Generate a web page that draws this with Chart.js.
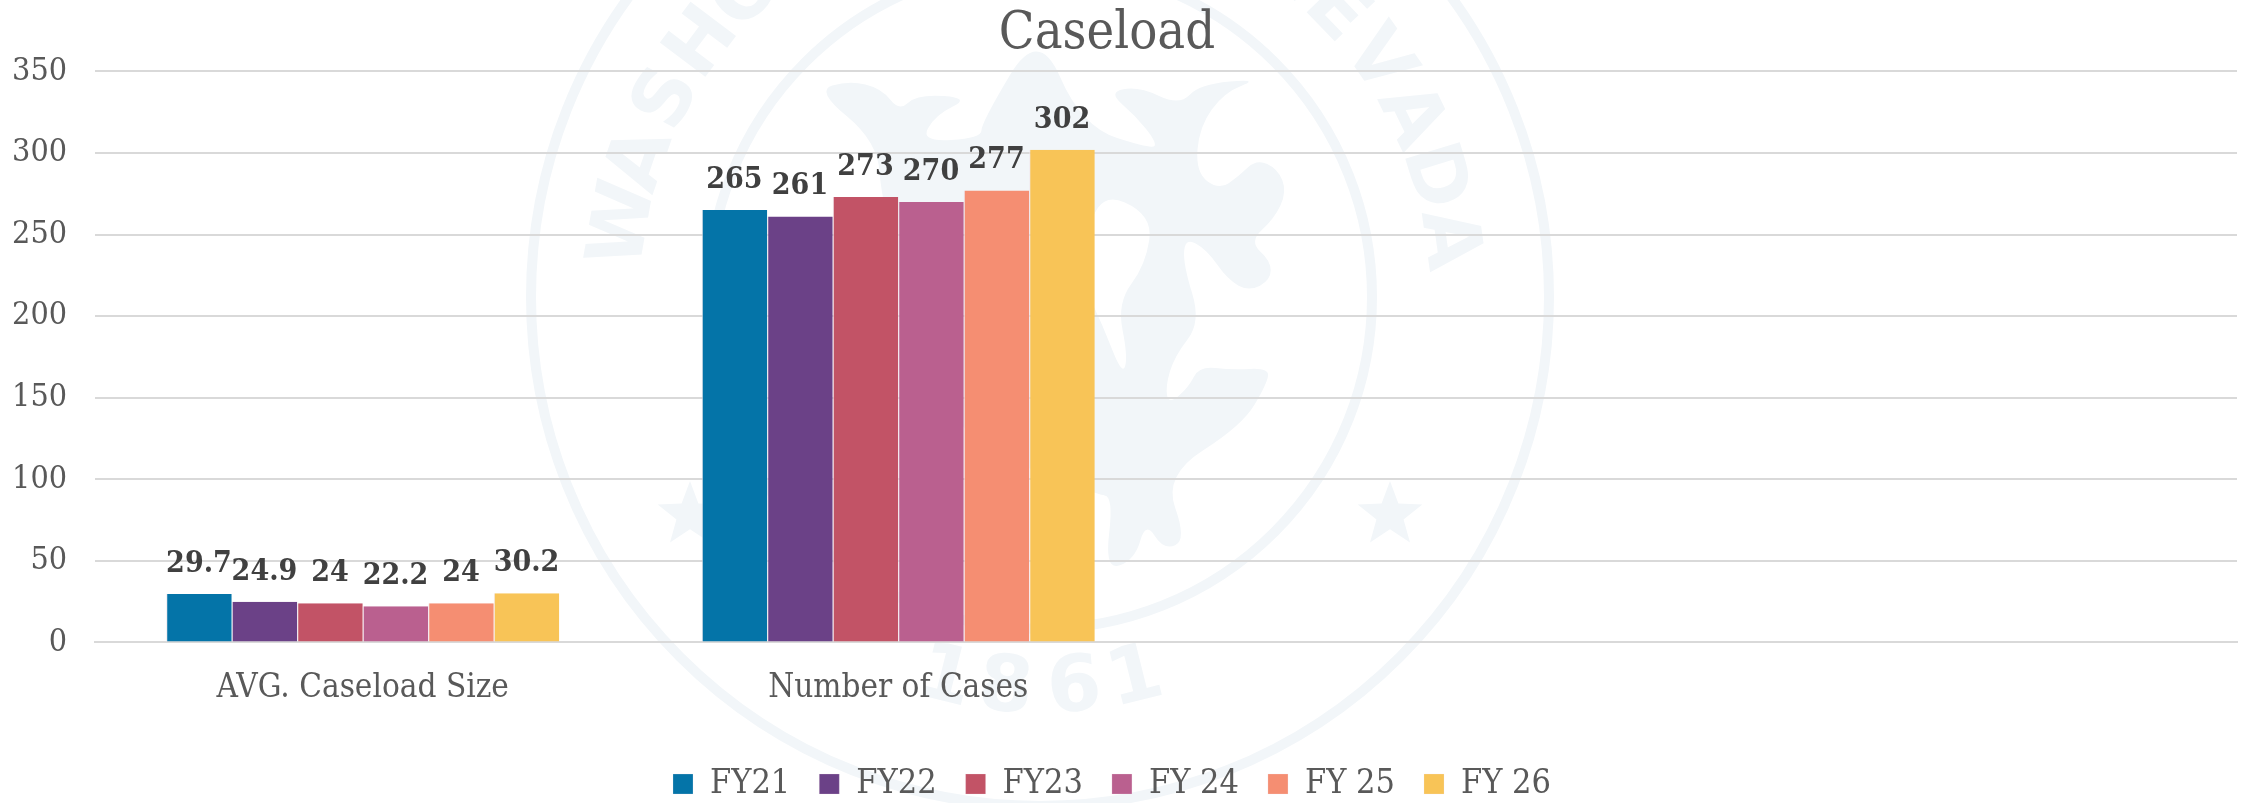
<!DOCTYPE html>
<html>
<head>
  <title>Caseload</title>
  <script src="https://cdn.jsdelivr.net/npm/chart.js"></script>
  <style>
    html, body { margin: 0; padding: 0; background: #fff; }
    .chart-container { position: relative; width: 2252px; height: 803px; }
  </style>
</head>
<body>
  <div class="chart-container">
    <canvas id="caseloadChart"></canvas>
  </div>
  <script>
    const categories = ['AVG. Caseload Size', 'Number of Cases', '', ''];
    const seriesNames = ['FY21', 'FY22', 'FY23', 'FY 24', 'FY 25', 'FY 26'];
    const fy21 = [29.7, 265, null, null];
    const fy22 = [24.9, 261, null, null];
    const fy23 = [24, 273, null, null];
    const fy24 = [22.2, 270, null, null];
    const fy25 = [24, 277, null, null];
    const fy26 = [30.2, 302, null, null];
    const seriesValues = [fy21, fy22, fy23, fy24, fy25, fy26];
    const seriesColors = ['#0474a8', '#6b4187', '#c25366', '#ba608f', '#f58e72', '#f8c457'];

    const slab = '"DejaVu Serif Condensed", "DejaVu Serif", serif';
    const inkLight = '#595959';
    const wash = '#f2f6f9';

    const figureOutline = [
      [155,105],[250,80],[340,100],[390,160],[440,115],[590,125],[490,170],[450,240],[620,230],[620,190],
      [780,-60],[900,200],[1100,260],[1110,240],[1050,170],[975,110],[1060,95],[1175,145],[1230,90],[1400,75],
      [1300,110],[1230,200],[1220,320],[1285,365],[1340,330],[1390,285],[1450,310],[1475,370],[1440,440],[1370,500],
      [1430,550],[1430,600],[1370,630],[1310,600],[1250,520],[1190,490],[1185,560],[1235,710],[1160,800],[1135,880],
      [1145,925],[1200,880],[1230,825],[1320,835],[1425,830],[1420,870],[1350,980],[1130,1110],[1195,1280],[1130,1305],
      [1080,1230],[1050,1330],[965,1360],[990,1165],[940,1160],[500,1000],[340,400],[330,240]
    ];
    const figureHole = [[940,365],[1100,430],[1080,560],[1000,660],[1030,800],[1015,850],[960,720],[900,600]];

    function arcLetters(ctx, text, startDeg, stepDeg, radius) {
      [...text].forEach((ch, i) => {
        const a = (startDeg + i * stepDeg) * Math.PI / 180;
        ctx.save();
        ctx.translate(1040 + radius * Math.sin(a), 297 - radius * Math.cos(a));
        ctx.rotate(a);
        ctx.fillText(ch, 0, 0);
        ctx.restore();
      });
    }

    function star(ctx, x, y, r) {
      ctx.beginPath();
      for (let i = 0; i < 10; i++) {
        const a = i * Math.PI / 5;
        const rr = i % 2 ? r * 0.42 : r;
        ctx.lineTo(x + rr * Math.sin(a), y - rr * Math.cos(a));
      }
      ctx.closePath();
      ctx.fill();
    }

    function smoothLoop(ctx, pts) {
      const p = pts.map(([x, y]) => [760 + x / 2.8, 50 + y / 2.61]);
      const mid = (a, b) => [(a[0] + b[0]) / 2, (a[1] + b[1]) / 2];
      const start = mid(p[p.length - 1], p[0]);
      ctx.moveTo(start[0], start[1]);
      p.forEach((pt, i) => {
        const m = mid(pt, p[(i + 1) % p.length]);
        ctx.quadraticCurveTo(pt[0], pt[1], m[0], m[1]);
      });
      ctx.closePath();
    }

    // Seal behind the chart, only decoration
    const sealPlugin = {
      id: 'seal',
      beforeDraw(chart) {
        const ctx = chart.ctx;
        ctx.save();
        ctx.strokeStyle = wash;
        ctx.fillStyle = wash;
        ctx.lineWidth = 10;
        ctx.beginPath();
        ctx.arc(1040, 297, 509, 0, Math.PI * 2);
        ctx.stroke();
        ctx.beginPath();
        ctx.arc(1040, 297, 332, 0, Math.PI * 2);
        ctx.stroke();
        ctx.beginPath();
        smoothLoop(ctx, figureOutline);
        smoothLoop(ctx, figureHole);
        ctx.fill('evenodd');
        ctx.font = 'bold 78px "DejaVu Sans"';
        ctx.textAlign = 'center';
        ctx.textBaseline = 'middle';
        arcLetters(ctx, 'WASHOE', -80, 9, 420);
        arcLetters(ctx, 'NEVADA', 37, 9, 410);
        ctx.translate(1040, 297);
        [['1', -14], ['8', -5], ['6', 5], ['1', 14]].forEach(([ch, deg]) => {
          const a = deg * Math.PI / 180;
          ctx.save();
          ctx.translate(395 * Math.sin(a), 395 * Math.cos(a));
          ctx.rotate(-a);
          ctx.fillText(ch, 0, 0);
          ctx.restore();
        });
        ctx.translate(-1040, -297);
        star(ctx, 690, 515, 34);
        star(ctx, 1390, 515, 34);
        ctx.restore();
      }
    };

    // Values over the bars
    const valueLabels = {
      id: 'valueLabels',
      afterDatasetsDraw(chart) {
        const ctx = chart.ctx;
        ctx.save();
        ctx.font = 'bold 30px ' + slab;
        ctx.fillStyle = '#404040';
        ctx.textAlign = 'center';
        ctx.textBaseline = 'middle';
        chart.data.datasets.forEach((ds, i) => {
          chart.getDatasetMeta(i).data.forEach((bar, j) => {
            if (ds.data[j] == null) return;
            ctx.fillText(String(ds.data[j]), bar.x, bar.y - 30);
          });
        });
        ctx.restore();
      }
    };

    // Title and legend sit a bit left of the canvas centre in the original
    const nudge = {
      id: 'nudge',
      afterLayout(chart) {
        chart.titleBlock.left -= 23;
        chart.legend.left -= 13;
        chart.legend.top += 8;
      }
    };

    new Chart(document.getElementById('caseloadChart'), {
      type: 'bar',
      data: {
        labels: categories,
        datasets: seriesNames.map((name, i) => ({
          label: name,
          data: seriesValues[i],
          backgroundColor: seriesColors[i],
          borderColor: 'rgba(240,230,235,0.9)',
          borderWidth: { left: 1, right: 0, top: 0, bottom: 0 },
          barPercentage: 1,
          categoryPercentage: 0.734
        }))
      },
      plugins: [sealPlugin, valueLabels, nudge],
      options: {
        responsive: true,
        maintainAspectRatio: false,
        animation: false,
        layout: { padding: { left: 0, right: 15, top: 0, bottom: 0 } },
        plugins: {
          title: {
            display: true,
            text: 'Caseload',
            color: inkLight,
            font: { family: slab, size: 52, weight: 'normal' },
            padding: { top: 3, bottom: 6 }
          },
          legend: {
            position: 'bottom',
            labels: {
              boxWidth: 20,
              boxHeight: 20,
              color: inkLight,
              padding: 29,
              font: { family: slab, size: 34 }
            }
          },
          tooltip: { enabled: false }
        },
        scales: {
          x: {
            afterFit(scale) { scale.height += 4; },
            grid: { display: false },
            border: { color: '#d9d9d9', width: 2 },
            ticks: {
              color: inkLight,
              padding: 18,
              maxRotation: 0,
              font: { family: slab, size: 33 }
            }
          },
          y: {
            min: 0,
            max: 350,
            afterFit(scale) { scale.width = 95; },
            grid: { color: '#d9d9d9', lineWidth: 2, drawTicks: false },
            border: { display: false },
            ticks: {
              stepSize: 50,
              color: inkLight,
              padding: 28,
              font: { family: slab, size: 32 }
            }
          }
        }
      }
    });
  </script>
</body>
</html>
